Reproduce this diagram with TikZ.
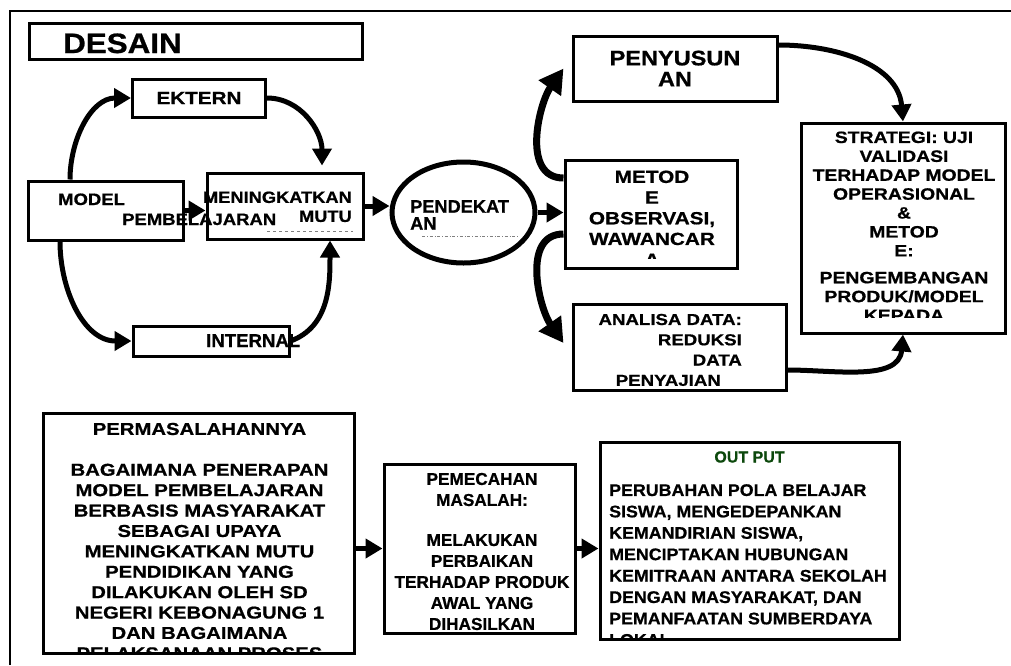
\documentclass[tikz,border=0pt]{standalone}
\usepackage{fontspec}
\setmainfont{Liberation Sans}[BoldFeatures={FakeBold=0.8}]
\newfontfamily\widefont{Liberation Sans}[FakeStretch=1.18, BoldFeatures={FakeBold=0.8}]
\newfontfamily\midfont{Liberation Sans}[FakeStretch=1.12, BoldFeatures={FakeBold=0.8}]
\newfontfamily\slightfont{Liberation Sans}[FakeStretch=1.06, BoldFeatures={FakeBold=0.8}]
\usetikzlibrary{arrows.meta,shapes.geometric}
\definecolor{outgreen}{RGB}{12,72,12}
\newcommand\setfs[3]{#1\fontsize{#2}{#3}\selectfont\bfseries}

\begin{document}
\begin{tikzpicture}[
    x=1pt, y=-1pt,
    box/.style={draw, line width=3pt, inner sep=0pt},
    txt/.style={inner sep=0pt, align=center},
    arrow/.style={-{Triangle[length=17pt,width=19pt]}, line width=5pt},
    bigarrow/.style={-{Triangle[length=24pt,width=26pt]}, line width=7pt},
    trace/.style={gray, line width=0.5pt}
]
\useasboundingbox (0,0) rectangle (1011,665);
\draw[line width=2pt] (10,665) -- (10,11) -- (1011,11);

% design part
\node[box, minimum width=333pt, minimum height=36pt] (desain) at (195.5,41) {};
\node[txt, anchor=base west, font=\setfs\midfont{28}{30}] (desaintxt) at (63,53) {DESAIN};
\node[box, minimum width=133pt, minimum height=38pt, font=\setfs\widefont{17.5}{21}] (ektern) at (199,98) {EKTERN};
\node[box, minimum width=155pt, minimum height=59pt] (model) at (106,210.5) {};
\node[txt, anchor=base west, font=\setfs\midfont{16.5}{20}] (modeltxt) at (58,205) {MODEL};
\node[txt, anchor=base west, font=\setfs\midfont{16.5}{20}] (pembtxt) at (122,225) {PEMBELAJARAN};
\node[box, minimum width=156pt, minimum height=66pt] (mening) at (285,206) {};
\node[txt, anchor=north east, align=right, font=\setfs\midfont{16.3}{19}] (meningtxt) at (352,191.3) {MENINGKATKAN\\MUTU};
\draw[trace, dashed] (267,231) -- (353,231);
\node[box, minimum width=156pt, minimum height=30pt] (internal) at (211,341) {};
\node[txt, anchor=base west, font=\setfs\rmfamily{18.6}{20}] (internaltxt) at (206,347) {INTERNAL};

\draw[arrow] ([xshift=-36pt]model.north) to[out=90,in=180] (ektern.west);
\draw[arrow] (ektern.east) to[out=0,in=90] ([xshift=37pt,yshift=6pt]mening.north);
\draw[arrow] ([xshift=-46pt]model.south) to[out=270,in=180] (internal.west);
\draw[arrow] (internal.east) to[out=20,in=270] ([xshift=45pt]mening.south);
\draw[arrow] (model.east) -- (model.east -| mening.west);

% approach and method
\node[draw, ellipse, line width=5pt, minimum width=143pt, minimum height=101pt, inner sep=0pt] (pend) at (463.5,212.5) {};
\node[txt, anchor=north west, align=left, font=\setfs\rmfamily{18.2}{17}] (pendtxt) at (410,200) {PENDEKAT\\AN};
\draw[trace, dash dot] (422,236) -- (518,236);
\draw[arrow] (mening.east) -- (mening.east -| pend.west);

\node[box, minimum width=172pt, minimum height=108pt] (metode) at (651,214) {};
\begin{scope}
  \clip (565,160) rectangle (737,258);
  \node[txt, anchor=north, font=\setfs\widefont{17.6}{20.7}] (metodetxt) at (652,170.4) {METOD\\E\\OBSERVASI,\\WAWANCAR\\A};
\end{scope}
\draw[arrow] (pend.east) -- (pend.east -| metode.west);

\node[box, minimum width=204pt, minimum height=65pt, font=\setfs\midfont{21}{21}, align=center] (penyu) at (675,68.5) {PENYUSUN\\AN};
\node[box, minimum width=213pt, minimum height=86pt] (analisa) at (679.5,347) {};
\node[txt, anchor=north east, align=right, font=\setfs\widefont{15.8}{20.3}] (analisatxt) at (742,313.7) {ANALISA DATA:\\REDUKSI\\DATA\\PENYAJIAN\hspace*{21pt}};

\draw[bigarrow] ([yshift=36pt]metode.west) to[out=180,in=235] ([xshift=-8pt]penyu.west);
\draw[bigarrow] ([yshift=-20pt]metode.west) to[out=180,in=125] ([xshift=-8pt,yshift=4pt]analisa.west);

\node[box, minimum width=204pt, minimum height=210pt] (strat) at (903,228) {};
\begin{scope}
  \clip (801,123) rectangle (1005,317);
  \node[txt, anchor=north, font=\setfs\widefont{16.4}{18.9}] (strattxt) at (904,131.3) {STRATEGI: UJI\\VALIDASI\\TERHADAP MODEL\\OPERASIONAL\\\&\\METOD\\E:\\[8pt]PENGEMBANGAN\\PRODUK/MODEL\\KEPADA};
\end{scope}
\draw[arrow] ([yshift=23.5pt]penyu.east) to[out=0,in=95] (strat.north);
\draw[arrow] ([yshift=-23pt]analisa.east) to[out=0,in=265] (strat.south);

% problem, solution, output
\node[box, minimum width=311pt, minimum height=240pt] (prob) at (198.5,533) {};
\begin{scope}
  \clip (prob.north west) rectangle (prob.south east);
  \node[txt, anchor=north, font=\setfs\widefont{17.2}{20.4}] (probtxt) at (199.5,422.7) {PERMASALAHANNYA\\[20.4pt]BAGAIMANA PENERAPAN\\MODEL PEMBELAJARAN\\BERBASIS MASYARAKAT\\SEBAGAI UPAYA\\MENINGKATKAN MUTU\\PENDIDIKAN YANG\\DILAKUKAN OLEH SD\\NEGERI KEBONAGUNG 1\\DAN BAGAIMANA\\PELAKSANAAN PROSES};
\end{scope}

\node[box, minimum width=191pt, minimum height=169pt] (pem) at (479.5,548.5) {};
\begin{scope}
  \clip (pem.north west) rectangle (pem.south east);
  \node[txt, anchor=north, font=\setfs\rmfamily{17.2}{21}] (pemtxt) at (482,472.7) {PEMECAHAN\\MASALAH:\\[19pt]MELAKUKAN\\PERBAIKAN\\TERHADAP PRODUK\\AWAL YANG\\DIHASILKAN};
\end{scope}

\node[box, minimum width=299pt, minimum height=197pt] (out) at (749.5,540.5) {};
\node[txt, anchor=base, text=outgreen, font=\setfs\rmfamily{16}{18}] (outtitle) at (749.5,462.5) {OUT PUT};
\begin{scope}
  \clip (out.north west) rectangle (out.south east);
  \node[txt, anchor=north west, align=left, font=\setfs\slightfont{16.8}{21.4}] (outtxt) at (609,484) {PERUBAHAN POLA BELAJAR\\SISWA, MENGEDEPANKAN\\KEMANDIRIAN SISWA,\\MENCIPTAKAN HUBUNGAN\\KEMITRAAN ANTARA SEKOLAH\\DENGAN MASYARAKAT, DAN\\PEMANFAATAN SUMBERDAYA\\LOKAL};
\end{scope}

\draw[arrow] (prob.east |- pem.west) -- (pem.west);
\draw[arrow] (pem.east) -- (pem.east -| out.west);
\end{tikzpicture}
\end{document}
